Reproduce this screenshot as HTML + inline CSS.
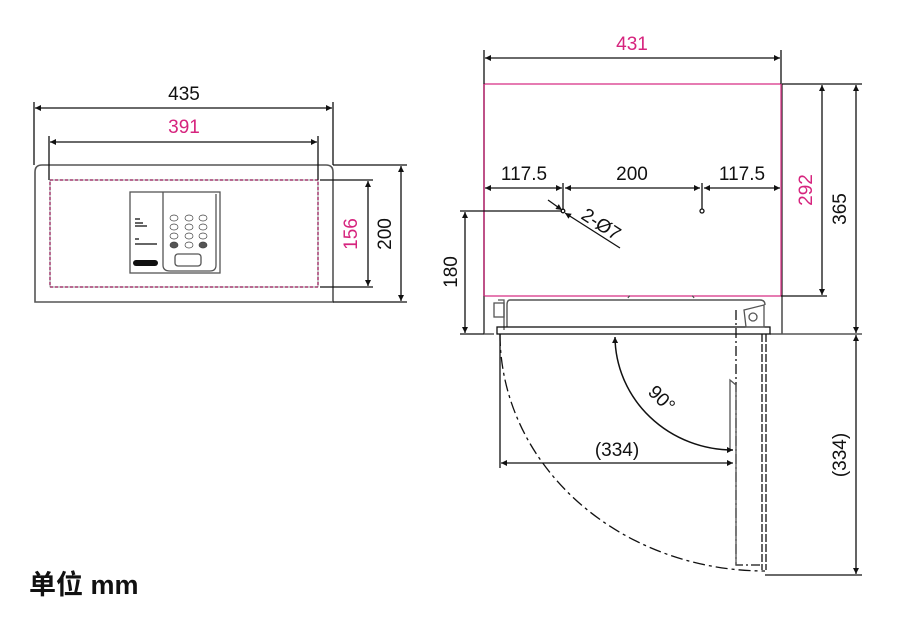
<!DOCTYPE html>
<html><head><meta charset="utf-8"><style>
html,body{margin:0;padding:0;background:#fff;width:900px;height:617px;overflow:hidden}
svg{display:block}
text{font-family:"Liberation Sans",sans-serif;font-size:19px;fill:#111}
.m{fill:#d6247e}
</style></head><body>
<svg width="900" height="617" viewBox="0 0 900 617" xmlns="http://www.w3.org/2000/svg">
<defs>
<marker id="a" viewBox="0 0 10 10" refX="10" refY="5" markerWidth="10" markerHeight="6" orient="auto-start-reverse" markerUnits="userSpaceOnUse"><path d="M0,0 L10,5 L0,10z" fill="#111"/></marker>
</defs>
<g stroke="#111" stroke-width="1.3" fill="none">
<!-- LEFT VIEW -->
<path d="M35,302 V172 Q35,165 42,165 H326 Q333,165 333,172 V302 Z" stroke="#555" stroke-width="1.6"/>
<rect x="50" y="180" width="268" height="107" stroke="#d6247e" stroke-dasharray="3,2" stroke-width="1.5"/>
<rect x="50" y="180" width="268" height="107" stroke="#555" stroke-width="0.6"/>
<rect x="130" y="192" width="90" height="81" stroke="#555"/>
<path d="M163,192 V265 Q163,271 170,271 H210 Q216,271 216,265 V194" stroke="#555"/>
<rect x="175" y="254" width="26" height="12" rx="3" stroke="#555"/>
<rect x="133" y="260" width="25" height="6" rx="3" fill="#111" stroke="none"/>
<g stroke="#444" stroke-width="0.7">
<ellipse cx="174" cy="218" rx="4" ry="3"/><ellipse cx="189" cy="218" rx="4" ry="3"/><ellipse cx="203" cy="218" rx="4" ry="3"/>
<ellipse cx="174" cy="227" rx="4" ry="3"/><ellipse cx="189" cy="227" rx="4" ry="3"/><ellipse cx="203" cy="227" rx="4" ry="3"/>
<ellipse cx="174" cy="236" rx="4" ry="3"/><ellipse cx="189" cy="236" rx="4" ry="3"/><ellipse cx="203" cy="236" rx="4" ry="3"/>
<ellipse cx="174" cy="245" rx="4" ry="3" fill="#555"/><ellipse cx="189" cy="245" rx="4" ry="3"/><ellipse cx="203" cy="245" rx="4" ry="3" fill="#555"/>
</g>
<g stroke="#333" stroke-width="1.5">
<path d="M135,219 h5 M135,223 h8 M135,226 h12 M135,239 h4 M135,244 h22"/>
</g>
<!-- dims left -->
<path d="M34,102 V165 M333,102 V165"/>
<line x1="35" y1="108" x2="332" y2="108" marker-start="url(#a)" marker-end="url(#a)"/>
<path d="M49,136 V180 M318,136 V180"/>
<line x1="50" y1="142" x2="317" y2="142" marker-start="url(#a)" marker-end="url(#a)"/>
<path d="M320,180 H373 M320,287 H373"/>
<line x1="368" y1="181" x2="368" y2="286" marker-start="url(#a)" marker-end="url(#a)"/>
<path d="M333,165 H407 M333,302 H407"/>
<line x1="401" y1="166" x2="401" y2="301" marker-start="url(#a)" marker-end="url(#a)"/>

<!-- RIGHT VIEW -->
<path d="M484,84 V334 M782,84 V334 M484,334 H494 M770,334 H862" stroke="#555" stroke-width="1.6"/>
<rect x="484" y="84" width="297" height="212" stroke="#d6247e" stroke-width="1.2"/>
<path d="M484,296 V334 M498,300 H504 V330" stroke="#555"/>
<rect x="494" y="303" width="10" height="14" stroke="#555"/>
<path d="M510,300 H760 Q765,300 765,305 M510,300 Q507,300 507,305 V327" stroke="#555" stroke-width="1.4"/>
<path d="M628,298 Q629,296 630,296 M692,296 Q693,296 694,298" stroke="#555"/>
<rect x="497" y="327" width="273" height="7" stroke="#111"/>
<path d="M744,310 L764,305 V327 H746 Z" stroke="#555"/><circle cx="753" cy="317" r="4" stroke="#555"/>
<!-- open door -->
<path d="M736,310 V565 H760" stroke="#111" stroke-dasharray="10,3,2,3"/>
<path d="M762,334 V570 M766,334 V570" stroke="#111" stroke-dasharray="8,2"/>
<path d="M736,565 V385 L730,380 V450" stroke="#555"/>
<path d="M500,334 A265,237 0 0 0 765,571" stroke="#111" stroke-dasharray="12,4,3,4"/>
<path d="M500,334 V468"/>
<line x1="501" y1="463" x2="733" y2="463" marker-start="url(#a)" marker-end="url(#a)"/>
<path d="M615,337 A118,114 0 0 0 733,450" marker-start="url(#a)" marker-end="url(#a)" stroke-width="1.5"/>
<!-- dims right -->
<path d="M484,50 V84 M781,50 V84"/>
<line x1="485" y1="58" x2="780" y2="58" marker-start="url(#a)" marker-end="url(#a)"/>
<path d="M782,84 H862"/>
<line x1="856" y1="85" x2="856" y2="333" marker-start="url(#a)" marker-end="url(#a)"/>
<path d="M781,296 H827"/>
<line x1="822" y1="85" x2="822" y2="295" marker-start="url(#a)" marker-end="url(#a)"/>
<line x1="856" y1="335" x2="856" y2="574" marker-start="url(#a)" marker-end="url(#a)"/>
<path d="M765,575 H862"/>
<path d="M460,211 H562 M484,334 H460"/>
<line x1="465" y1="212" x2="465" y2="333" marker-start="url(#a)" marker-end="url(#a)"/>
<line x1="485" y1="188" x2="562" y2="188" marker-start="url(#a)" marker-end="url(#a)"/>
<line x1="565" y1="188" x2="700" y2="188" marker-start="url(#a)" marker-end="url(#a)"/>
<line x1="704" y1="188" x2="780" y2="188" marker-start="url(#a)" marker-end="url(#a)"/>
<path d="M563,183 V209 M702,183 V209"/>
<circle cx="563" cy="211" r="1.8"/><circle cx="702" cy="211" r="2"/>
<line x1="548" y1="200" x2="562" y2="210" marker-end="url(#a)"/>
<line x1="620" y1="248" x2="565" y2="213" marker-end="url(#a)"/>
</g>
<!-- TEXT -->
<text x="184" y="100" text-anchor="middle">435</text>
<text x="184" y="133" text-anchor="middle" class="m">391</text>
<text transform="translate(357,234) rotate(-90)" text-anchor="middle" class="m">156</text>
<text transform="translate(391,234) rotate(-90)" text-anchor="middle">200</text>
<text x="632" y="50" text-anchor="middle" class="m">431</text>
<text x="524" y="180" text-anchor="middle">117.5</text>
<text x="632" y="180" text-anchor="middle">200</text>
<text x="742" y="180" text-anchor="middle">117.5</text>
<text transform="translate(812,190) rotate(-90)" text-anchor="middle" class="m">292</text>
<text transform="translate(846,209) rotate(-90)" text-anchor="middle">365</text>
<text transform="translate(457,272) rotate(-90)" text-anchor="middle">180</text>
<text transform="translate(580,218) rotate(33)">2-Ø7</text>
<text transform="translate(647,393) rotate(45)">90°</text>
<text x="617" y="456" text-anchor="middle">(334)</text>
<text transform="translate(846,455) rotate(-90)" text-anchor="middle">(334)</text>
<text x="29" y="594" style="font-family:'Liberation Sans','Noto Sans CJK SC',sans-serif;font-weight:bold;font-size:27px">单位 mm</text>
</svg>
</body></html>
